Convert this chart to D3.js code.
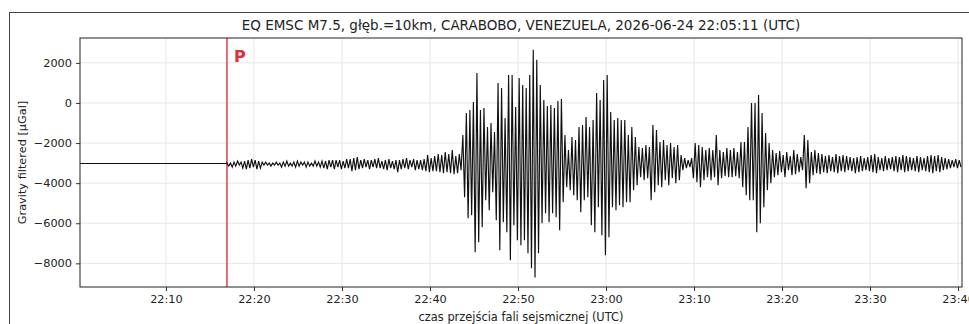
<!DOCTYPE html>
<html>
<head>
<meta charset="utf-8">
<script src="https://cdn.jsdelivr.net/npm/d3@7"></script>
<style>
  html, body { margin: 0; padding: 0; background: #fff; }
  svg { display: block; font-family: 'DejaVu Sans', sans-serif; }
</style>
</head>
<body>
<svg id="chart" width="969" height="324"></svg>
<script>
const title = 'EQ EMSC M7.5, głęb.=10km, CARABOBO, VENEZUELA, 2026-06-24 22:05:11 (UTC)';
const xLabel = 'czas przejścia fali sejsmicznej (UTC)';
const yLabel = 'Gravity filtered [µGal]';

const windowStart = '2026-06-24T22:00:14Z';
const windowEnd = '2026-06-24T23:40:27Z';
const pArrival = '2026-06-24T22:16:56Z';
const sampleStepSec = 12;
const restLevel = -3020;
const yTicks = [-8000, -6000, -4000, -2000, 0, 2000];

// values in µGal, one every sampleStepSec from the P arrival
const pNoise = [
  -3000, -3150, -3000, -3200, -2950, -3150, -2900, -3100, -2950,
  -3250, -2900, -3300, -2850, -3250, -2800, -3200, -2850, -3300, -2900, -3250, -2950,
  -3100, -2950, -3100, -3000, -3150, -3000, -3100, -2950, -3100, -3000,
  -3200, -2950, -3150, -2900, -3150, -3000, -3150, -2950, -3200, -2900, -3150, -2950,
  -3100, -2950, -3200, -2950, -3150, -3000, -3150, -2900, -3150, -2950, -3200,
  -2900, -3250, -2900, -3300, -2850, -3200, -2850, -3300, -2850, -3200, -2850, -3300,
  -2900, -3250, -2800, -3250, -2800,
  -3400, -2750, -3350, -2700, -3300, -2850,
  -3250, -2800, -3200, -2850, -3300, -2850, -3200, -2800, -3250, -2750, -3250, -2900,
  -3300, -2850, -3350, -2800, -3250, -2900, -3300, -2850, -3450,
  -2850, -3300, -2800, -3250, -2750, -3300, -2850, -3200, -2800, -3350, -2850, -3300,
  -2850, -3350, -2800, -3400, -2600, -3450,
  -2750, -3400, -2650, -3400, -2550, -3450, -2600, -3500, -2450, -3450, -2550, -3500,
  -2350, -3550, -2650, -3500, -2550, -3350
];
const surfaceWave = [
  -1600, -4700, -500, -5750, -350, -5600, 50, -7450, 1500, -6950,
  -350, -6200, -250, -4850, -1200, -5350, -1000, -4450, -1450, -5850,
  1000, -7350, 750, -5950, -750, -6450, 1400, -7850, 1400, -6100,
  -200, -6850, 1250, -7100, 900, -6850, 750, -7500, 1400, -8250,
  2650, -8700, 2150, -7500, 900, -6000, 150, -5500, -150
];
const secondGroup = [
  -5950, -100, -5500, -250, -5700, 100, -6350, 200, -4950, -1600,
  -4200, -2350, -4350, -1700, -4600, -1850, -4850, -1200, -5450, -1100,
  -4850, -700, -4700, -1200, -6100, -850, -6450, 500, -5200, 150,
  -6600, 1150, -7600, 1400, -6700, -450, -5200, -850, -5350, -750,
  -5100, -850, -5200, -850, -4950, -1600, -4950, -1200, -4350, -1700,
  -4100, -2200
];
const thirdGroup = [
  -3700, -2250, -3850, -2100, -3750, -2200, -4850, -1100, -4450, -1350,
  -4100, -1950, -4200, -1850, -3850, -2100, -4100, -2000, -3750, -2200,
  -4000, -2100, -3850, -2600, -3350, -2750, -3250, -2850, -3200, -2750,
  -3750, -2000, -3950, -2100, -4200, -2200, -3850, -2350, -3700, -2250,
  -3850, -2350, -3700, -1600, -4100, -2350, -3750, -2450, -3650, -2250,
  -3700
];
const lateBurst = [
  -2350, -3700, -2250, -3650, -2450, -3750, -1950, -4200, -1950, -4600,
  -1200, -4850, 0, -4850, 0, -6450, 400, -6000, -500, -5200,
  -1500, -4350, -2000, -4000, -2350, -3700, -2500, -3600, -2400, -3450,
  -2600, -3700, -2450, -3350, -2650, -3600, -2350, -3550, -2550, -3450,
  -2700, -3350, -1600, -4250, -1850, -4000, -2450, -3600, -2350, -3500,
  -2500
];
const coda = [
  -3550, -2550, -3450, -2650, -3500, -2600, -3400, -2700, -3450, -2550, -3500, -2650, -3400, -2600,
  -3450, -2650, -3350, -2700, -3400, -2750, -3500, -2700, -3450, -2650, -3400, -2750, -3350, -2700,
  -3400, -2600, -3450, -2550, -3500, -2700, -3350, -2750, -3400, -2650, -3350, -2750, -3300, -2700,
  -3400, -2650, -3450, -2700, -3350, -2600, -3450, -2650, -3400, -2700, -3350, -2750, -3400, -2650,
  -3450, -2700, -3350, -2750, -3400, -2650, -3450, -2600, -3500, -2650, -3400, -2600, -3450, -2700,
  -3350, -2750, -3300, -2800, -3250, -2850, -3200, -2800, -3250, -2850, -3200
];

const margin = { top: 38, right: 7, bottom: 37, left: 80 };
const width = 969;
const height = 324;

const t0 = new Date(windowStart);
const t1 = new Date(windowEnd);
const tp = new Date(pArrival);

const signal = [].concat(pNoise, surfaceWave, secondGroup, thirdGroup, lateBurst, coda);
const points = [{ t: t0, v: restLevel }, { t: tp, v: restLevel }]
  .concat(signal.map((v, i) => ({ t: new Date(tp.getTime() + i * sampleStepSec * 1000), v })));

const svg = d3.select('#chart');

const x = d3.scaleUtc()
  .domain([t0, t1])
  .range([margin.left, width - margin.right]);

const y = d3.scaleLinear()
  .domain([-9180, 3240])
  .range([height - margin.bottom, margin.top]);

// figure border
svg.append('rect')
  .attr('x', 9.5).attr('y', 12.5)
  .attr('width', 1000).attr('height', 400)
  .attr('fill', 'none')
  .attr('stroke', '#444')
  .attr('stroke-width', 1);

svg.append('defs').append('clipPath').attr('id', 'plot')
  .append('rect')
  .attr('x', margin.left).attr('y', margin.top)
  .attr('width', width - margin.right - margin.left)
  .attr('height', height - margin.bottom - margin.top);

const xTicks = d3.utcMinute.every(10).range(new Date('2026-06-24T22:10:00Z'), t1);

// grid
svg.append('g')
  .selectAll('line')
  .data(xTicks)
  .join('line')
  .attr('x1', d => x(d)).attr('x2', d => x(d))
  .attr('y1', margin.top).attr('y2', height - margin.bottom)
  .attr('stroke', '#e6e6e6');

svg.append('g')
  .selectAll('line')
  .data(yTicks)
  .join('line')
  .attr('x1', margin.left).attr('x2', width - margin.right)
  .attr('y1', d => y(d)).attr('y2', d => y(d))
  .attr('stroke', '#e6e6e6');

// P arrival
svg.append('line')
  .attr('x1', x(tp)).attr('x2', x(tp))
  .attr('y1', margin.top).attr('y2', height - margin.bottom)
  .attr('stroke', '#e0303c')
  .attr('stroke-width', 1.4);

svg.append('text')
  .attr('x', x(tp) + 7)
  .attr('y', 62)
  .attr('fill', '#d9303a')
  .attr('font-size', 16)
  .attr('font-weight', 'bold')
  .text('P');

// waveform
svg.append('path')
  .datum(points)
  .attr('clip-path', 'url(#plot)')
  .attr('fill', 'none')
  .attr('stroke', '#111')
  .attr('stroke-width', 1.15)
  .attr('d', d3.line().x(d => x(d.t)).y(d => y(d.v)));

// axes
const xAxis = svg.append('g')
  .attr('transform', `translate(0,${height - margin.bottom})`)
  .call(d3.axisBottom(x).tickValues(xTicks).tickFormat(d3.utcFormat('%H:%M')).tickSize(4).tickPadding(4));

const yAxis = svg.append('g')
  .attr('transform', `translate(${margin.left},0)`)
  .call(d3.axisLeft(y).tickValues(yTicks).tickFormat(d => d < 0 ? '\u2212' + Math.abs(d) : d).tickSize(4).tickPadding(4));

[xAxis, yAxis].forEach(g => {
  g.select('.domain').remove();
  g.selectAll('.tick line').attr('stroke', '#333');
  g.selectAll('.tick text')
    .attr('fill', '#222')
    .attr('font-size', 11.3)
    .attr('font-family', "'DejaVu Sans', sans-serif");
});

// frame
svg.append('rect')
  .attr('x', margin.left).attr('y', margin.top)
  .attr('width', width - margin.right - margin.left)
  .attr('height', height - margin.bottom - margin.top)
  .attr('fill', 'none')
  .attr('stroke', '#222')
  .attr('stroke-width', 1);

svg.append('text')
  .attr('x', (margin.left + width - margin.right) / 2)
  .attr('y', 30)
  .attr('text-anchor', 'middle')
  .attr('font-size', 13.5)
  .attr('fill', '#222')
  .text(title);

svg.append('text')
  .attr('x', (margin.left + width - margin.right) / 2)
  .attr('y', 321)
  .attr('text-anchor', 'middle')
  .attr('font-size', 11.4)
  .attr('fill', '#222')
  .text(xLabel);

svg.append('text')
  .attr('transform', `translate(26,${(margin.top + height - margin.bottom) / 2}) rotate(-90)`)
  .attr('text-anchor', 'middle')
  .attr('font-size', 11.3)
  .attr('fill', '#222')
  .text(yLabel);
</script>
</body>
</html>
